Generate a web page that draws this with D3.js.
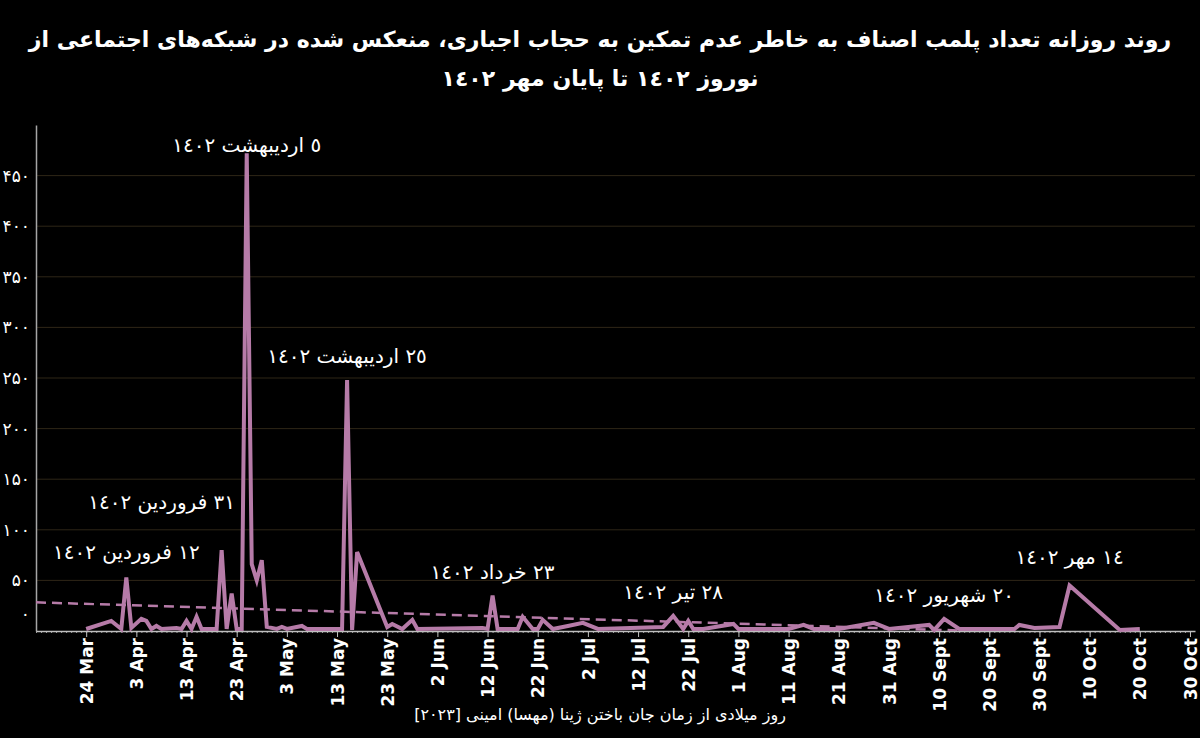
<!DOCTYPE html>
<html>
<head>
<meta charset="utf-8">
<script src="https://cdn.jsdelivr.net/npm/d3@7"></script>
<style>
  body { margin: 0; background: #000; }
  svg { display: block; }
</style>
</head>
<body>
<svg id="chart" width="1200" height="738"></svg>
<script>
// daily count of closed shops
const dates = [
  '2023-03-24', '2023-03-29', '2023-03-31', '2023-04-01', '2023-04-02', '2023-04-04', '2023-04-05',
  '2023-04-06', '2023-04-07', '2023-04-08', '2023-04-11', '2023-04-12', '2023-04-13', '2023-04-14',
  '2023-04-15', '2023-04-16', '2023-04-19', '2023-04-20', '2023-04-21', '2023-04-22', '2023-04-23',
  '2023-04-24', '2023-04-25', '2023-04-26', '2023-04-27', '2023-04-28', '2023-04-29', '2023-05-01',
  '2023-05-02', '2023-05-03', '2023-05-06', '2023-05-07', '2023-05-14', '2023-05-15', '2023-05-16',
  '2023-05-17', '2023-05-23', '2023-05-24', '2023-05-26', '2023-05-28', '2023-05-29', '2023-06-11',
  '2023-06-12', '2023-06-13', '2023-06-14', '2023-06-18', '2023-06-19', '2023-06-21', '2023-06-22',
  '2023-06-23', '2023-06-25', '2023-06-28', '2023-07-01', '2023-07-04', '2023-07-17', '2023-07-19',
  '2023-07-21', '2023-07-22', '2023-07-23', '2023-07-25', '2023-07-31', '2023-08-01', '2023-08-11',
  '2023-08-14', '2023-08-16', '2023-08-21', '2023-08-28', '2023-08-31', '2023-09-08', '2023-09-09',
  '2023-09-11', '2023-09-14', '2023-09-25', '2023-09-26', '2023-09-29', '2023-10-04', '2023-10-06',
  '2023-10-16', '2023-10-20'
];
const counts = [
  2, 10, 2, 53, 3, 12, 10,
  2, 5, 2, 3, 2, 10, 2,
  14, 2, 2, 80, 2, 37, 2,
  2, 472, 66, 50, 70, 4, 2,
  4, 2, 5, 2, 2, 248, 1,
  78, 4, 7, 2, 11, 2, 3,
  2, 35, 2, 2, 14, 2, 2,
  11, 2, 5, 8, 2, 4, 15,
  2, 10, 2, 2, 7, 2, 2,
  6, 2, 2, 8, 2, 6, 1,
  12, 2, 2, 6, 3, 4, 45,
  1, 2
];

// linear trend (dashed), ends
const trendDates = ['2023-03-14', '2023-10-20'];
const trendValues = [28.3, -4.9];

// labelled peaks
const noteDates = ['2023-04-01', '2023-04-20', '2023-04-25', '2023-05-15', '2023-06-13', '2023-07-19', '2023-09-11', '2023-10-06'];
const noteLabels = ['١٢ فروردین ١٤٠٢', '٣١ فروردین ١٤٠٢', '٥ اردیبهشت ١٤٠٢', '٢٥ اردیبهشت ١٤٠٢', '٢٣ خرداد ١٤٠٢', '٢٨ تیر ١٤٠٢', '٢٠ شهریور ١٤٠٢', '١٤ مهر ١٤٠٢'];

// axes
const xTickDates = ['2023-03-24', '2023-04-03', '2023-04-13', '2023-04-23', '2023-05-03', '2023-05-13', '2023-05-23',
  '2023-06-02', '2023-06-12', '2023-06-22', '2023-07-02', '2023-07-12', '2023-07-22', '2023-08-01', '2023-08-11',
  '2023-08-21', '2023-08-31', '2023-09-10', '2023-09-20', '2023-09-30', '2023-10-10', '2023-10-20', '2023-10-30'];
const xTickLabels = ['24 Mar', '3 Apr', '13 Apr', '23 Apr', '3 May', '13 May', '23 May', '2 Jun', '12 Jun', '22 Jun',
  '2 Jul', '12 Jul', '22 Jul', '1 Aug', '11 Aug', '21 Aug', '31 Aug', '10 Sept', '20 Sept', '30 Sept', '10 Oct', '20 Oct', '30 Oct'];
const yTicks = [0, 50, 100, 150, 200, 250, 300, 350, 400, 450];
const yTickLabels = ['۰', '۵۰', '۱۰۰', '۱۵۰', '۲۰۰', '۲۵۰', '۳۰۰', '۳۵۰', '۴۰۰', '۴۵۰'];

const titleLines = [
  'روند روزانه تعداد پلمب اصناف به خاطر عدم تمکین به حجاب اجباری، منعکس شده در شبکه\u200cهای اجتماعی از',
  'نوروز ١٤٠٢ تا پایان مهر ١٤٠٢'
];
const xTitle = 'روز میلادی از زمان جان باختن ژینا (مهسا) امینی [۲۰۲۳]';

const parse = d3.utcParse('%Y-%m-%d');
const FONT = "'DejaVu Sans', sans-serif";
const LINE_COLOR = '#b67ba8';

class dailyLineChart {
  constructor({svg, padding = [125, 5, 107, 36]}) {
    this.svg = d3.select(svg);
    this.width = +svg.getAttribute('width');
    this.height = +svg.getAttribute('height');
    this.padding = {top: padding[0], right: padding[1], bottom: padding[2], left: padding[3]};
    this.data = dates.map((d, i) => ({date: parse(d), value: counts[i]}));
  }

  create() {
    this.svg.append('rect').attr('width', this.width).attr('height', this.height).attr('fill', '#000');
    this.scaleX = d3.scaleUtc()
      .domain([parse('2023-03-14'), parse('2023-10-31')])
      .range([this.padding.left, this.width - this.padding.right]);
    this.scaleY = d3.scaleLinear()
      .domain([0, 500])
      .range([this.height - this.padding.bottom, this.padding.top]);
    this._drawTitle();
    this._drawGrid();
    this._drawAxisY();
    this._drawAxisX();
    this._drawTrend();
    this._drawLine();
    this._drawNotes();
  }

  _drawTitle() {
    this.svg.append('g').selectAll('text')
      .data(titleLines)
      .join('text')
      .attr('x', this.width / 2)
      .attr('y', (d, i) => 47 + i * 39)
      .attr('text-anchor', 'middle')
      .attr('direction', 'rtl')
      .attr('fill', '#fff')
      .style('font', `bold 22px ${FONT}`)
      .text(d => d);
  }

  _drawGrid() {
    const [x0, x1] = this.scaleX.range();
    this.svg.append('g').selectAll('line')
      .data(yTicks.filter(d => d > 0))
      .join('line')
      .attr('x1', x0).attr('x2', x1)
      .attr('y1', d => this.scaleY(d)).attr('y2', d => this.scaleY(d))
      .attr('stroke', '#2e2617')
      .attr('stroke-width', 1);
  }

  _drawAxisY() {
    const g = this.svg.append('g')
      .attr('transform', `translate(${this.padding.left},0)`)
      .call(d3.axisLeft(this.scaleY).tickValues(yTicks).tickSize(0).tickPadding(6)
        .tickFormat((d, i) => yTickLabels[i]));
    g.select('.domain').attr('stroke', '#a6a6a6').attr('stroke-width', 1.5);
    g.selectAll('text')
      .attr('fill', '#fff')
      .style('font', `17px ${FONT}`)
      .attr('dy', d => d === 0 ? '-0.7em' : '0.32em');
  }

  _drawAxisX() {
    const base = this.height - this.padding.bottom;
    // minor ticks, one per day
    const minor = this.svg.append('g')
      .attr('transform', `translate(0,${base})`)
      .call(d3.axisBottom(this.scaleX)
        .tickValues(d3.utcDay.range(...this.scaleX.domain()))
        .tickSize(2).tickSizeOuter(0).tickFormat(''));
    minor.select('.domain').remove();
    minor.selectAll('line').attr('stroke', '#9a9a9a');

    const g = this.svg.append('g')
      .attr('transform', `translate(0,${base})`)
      .call(d3.axisBottom(this.scaleX)
        .tickValues(xTickDates.map(parse))
        .tickSize(6).tickSizeOuter(0)
        .tickFormat((d, i) => xTickLabels[i]));
    g.select('.domain').attr('stroke', '#bfbfbf').attr('stroke-width', 1.5);
    g.selectAll('.tick line').attr('stroke', '#bfbfbf');
    g.selectAll('text')
      .attr('fill', '#fff')
      .style('font', `bold 17px ${FONT}`)
      .attr('text-anchor', 'end')
      .attr('transform', 'rotate(-90)')
      .attr('x', -7)
      .attr('y', 0)
      .attr('dy', '0.36em');

    this.svg.append('text')
      .attr('x', this.width / 2)
      .attr('y', 720)
      .attr('text-anchor', 'middle')
      .attr('direction', 'rtl')
      .attr('fill', '#fff')
      .style('font', `16px ${FONT}`)
      .text(xTitle);
  }

  _drawTrend() {
    const [x0, x1] = this.scaleX.range();
    const [y0, y1] = this.scaleY.range();
    this.svg.append('clipPath').attr('id', 'plot-clip')
      .append('rect').attr('x', x0).attr('y', y1).attr('width', x1 - x0).attr('height', y0 - y1);
    const pts = trendDates.map((d, i) => ({date: parse(d), value: trendValues[i]}));
    this.svg.append('path')
      .datum(pts)
      .attr('clip-path', 'url(#plot-clip)')
      .attr('fill', 'none')
      .attr('stroke', LINE_COLOR)
      .attr('stroke-width', 2.5)
      .attr('stroke-dasharray', '10,6')
      .attr('d', d3.line().x(d => this.scaleX(d.date)).y(d => this.scaleY(d.value)));
  }

  _drawLine() {
    this.svg.append('path')
      .datum(this.data)
      .attr('fill', 'none')
      .attr('stroke', LINE_COLOR)
      .attr('stroke-width', 4)
      .attr('d', d3.line().x(d => this.scaleX(d.date)).y(d => this.scaleY(d.value)));
  }

  _drawNotes() {
    // label placement relative to each peak: [dx, lift above peak]
    const place = [[0, 25], [-60, 48], [0, 8], [0, 24], [0, 24], [0, 24], [0, 24], [0, 28]];
    const lookup = new Map(this.data.map(d => [+d.date, d.value]));
    this.svg.append('g').selectAll('text')
      .data(noteDates)
      .join('text')
      .attr('x', (d, i) => this.scaleX(parse(d)) + place[i][0])
      .attr('y', (d, i) => this.scaleY(lookup.get(+parse(d))) - place[i][1])
      .attr('dy', '0.35em')
      .attr('text-anchor', 'middle')
      .attr('direction', 'rtl')
      .attr('fill', '#fff')
      .style('font', `20px ${FONT}`)
      .text((d, i) => noteLabels[i]);
  }
}

new dailyLineChart({svg: document.getElementById('chart')}).create();
</script>
</body>
</html>
